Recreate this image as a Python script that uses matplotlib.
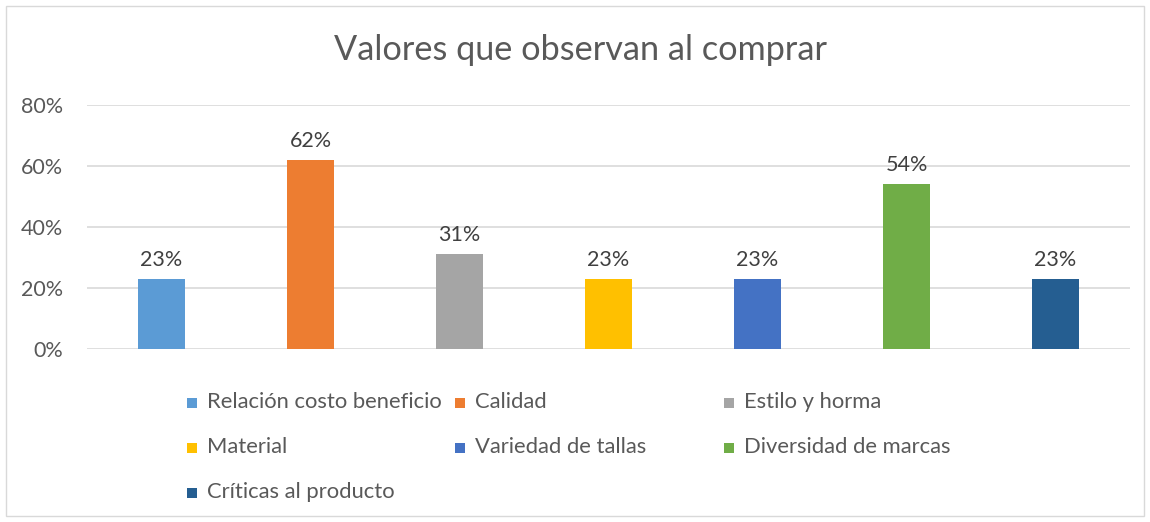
import matplotlib
matplotlib.use("Agg")
import matplotlib.pyplot as plt
from matplotlib.patches import Rectangle

categories = ["Relación costo beneficio", "Calidad", "Estilo y horma", "Material",
              "Variedad de tallas", "Diversidad de marcas", "Críticas al producto"]
values = [0.23, 0.62, 0.31, 0.23, 0.23, 0.54, 0.23]
labels = ["23%", "62%", "31%", "23%", "23%", "54%", "23%"]
colors = ["#5B9BD5", "#ED7D31", "#A5A5A5", "#FFC000", "#4472C4", "#70AD47", "#255E91"]
yticks = [0, 0.2, 0.4, 0.6, 0.8]
ytick_labels = ["0%", "20%", "40%", "60%", "80%"]
title = "Valores que observan al comprar"

plt.rcParams['font.family'] = ['Lato', 'DejaVu Sans']
W, H = 1150, 522
fig = plt.figure(figsize=(W/100, H/100), dpi=100)
fig.patch.set_facecolor("white")
# outer border
fig.add_artist(Rectangle((6/W, 6/H), 1 - 12/W, 1 - 12/H, transform=fig.transFigure,
                         fill=False, edgecolor="#d9d9d9", linewidth=1))

ax = fig.add_axes([87/W, 173/H, (1130-87)/W, (349-105)/H])
x = list(range(len(categories)))
ax.bar(x, values, width=0.315, color=colors, zorder=3)
ax.set_xlim(-0.5, len(categories) - 0.5)
ax.set_ylim(0, 0.8)
ax.set_yticks(yticks)
ax.set_yticklabels(ytick_labels, fontsize=15.5, color="#595959")
ax.tick_params(axis='y', length=0, pad=17)
ax.set_xticks([])
for s in ax.spines.values():
    s.set_visible(False)
ax.grid(axis='y', color="#d9d9d9", linewidth=1.2, zorder=0)
ax.set_axisbelow(True)
for xi, v, lab in zip(x, values, labels):
    ax.annotate(lab, (xi, v), xytext=(0, 19), textcoords="offset pixels",
                ha="center", va="center", fontsize=15.5, color="#404040")

fig.text(581/W, 1 - 50/H, title, ha="center", va="center", fontsize=24.7, color="#595959")

# legend, row-major, 3 columns
col_x = [187, 455, 724]
row_y = [402, 447, 492]
for i, (cat, c) in enumerate(zip(categories, colors)):
    r, k = divmod(i, 3)
    px, py = col_x[k], row_y[r]
    fig.add_artist(Rectangle((px/W, (H - py - 6)/H), 10/W, 10/H, transform=fig.transFigure,
                             facecolor=c, edgecolor="none"))
    fig.text((px + 20)/W, 1 - py/H, cat, ha="left", va="center", fontsize=15.8, color="#595959")

fig.savefig("out.png", dpi=100)
